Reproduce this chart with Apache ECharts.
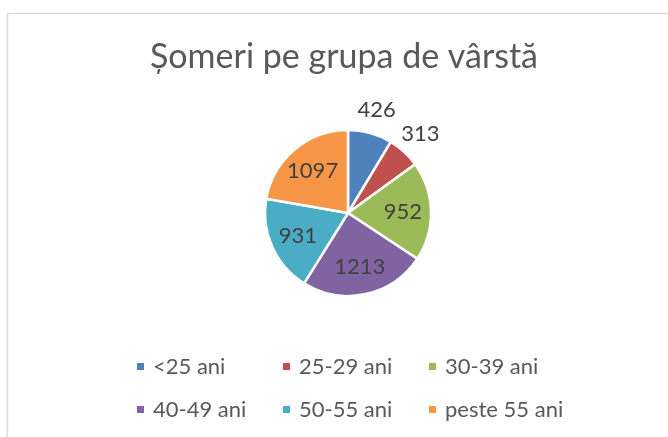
<!DOCTYPE html>
<html>
<head>
<meta charset="utf-8">
<script src="https://cdn.jsdelivr.net/npm/echarts@6/dist/echarts.min.js"></script>
<style>
html,body{margin:0;padding:0;background:#fff;}
#chart{width:668px;height:437px;}
</style>
</head>
<body>
<div id="chart"></div>
<script>
const titleText = 'Șomeri pe grupa de vârstă';
const categories = ['<25 ani', '25-29 ani', '30-39 ani', '40-49 ani', '50-55 ani', 'peste 55 ani'];
const values = [426, 313, 952, 1213, 931, 1097];
const labelOutside = [true, true, false, false, false, false];
const colors = ['#4f81bd', '#c0504d', '#9bbb59', '#8064a2', '#4bacc6', '#f79646'];

const chart = echarts.init(document.getElementById('chart'), null, {renderer: 'canvas'});

const baseData = categories.map((c, i) => ({name: c, value: values[i], itemStyle: {color: colors[i]}}));
const labelFont = {fontFamily: 'Lato', fontSize: 22, color: '#404040'};

function labelSeries(radius, outsideFlag) {
  return {
    type: 'pie',
    silent: true,
    center: [348, 213],
    radius: radius,
    startAngle: 90,
    clockwise: true,
    legendHoverLink: false,
    itemStyle: {color: 'rgba(0,0,0,0)', borderWidth: 0},
    emphasis: {disabled: true},
    labelLine: {show: false},
    data: categories.map((c, i) => ({
      name: c,
      value: values[i],
      label: {show: labelOutside[i] === outsideFlag, position: 'inside', formatter: '{c}', ...labelFont}
    })),
    z: 5
  };
}

chart.setOption({
  backgroundColor: '#fff',
  animation: false,
  graphic: [{
    type: 'rect',
    shape: {x: 7.5, y: 13.5, width: 700, height: 500},
    style: {fill: 'none', stroke: '#d9d9d9', lineWidth: 1.5},
    silent: true
  }],
  title: {
    text: titleText,
    left: 344,
    textAlign: 'center',
    top: 40,
    padding: 0,
    textStyle: {fontFamily: 'Lato', fontSize: 34, fontWeight: 'normal', color: '#595959'}
  },
  legend: {
    data: categories,
    left: 135,
    top: 349,
    padding: 0,
    width: 440,
    orient: 'horizontal',
    icon: 'rect',
    itemWidth: 9,
    itemHeight: 9,
    itemGap: 8,
    textStyle: {fontFamily: 'Lato', fontSize: 22, color: '#595959', width: 120, lineHeight: 35, padding: [0, 0, 0, 3]},
    selectedMode: false
  },
  series: [
    {
      type: 'pie',
      center: [348, 213],
      radius: [0, 83],
      startAngle: 90,
      clockwise: true,
      itemStyle: {borderColor: '#ffffff', borderWidth: 2.5},
      label: {show: false},
      labelLine: {show: false},
      emphasis: {disabled: true},
      data: baseData,
      z: 2
    },
    labelSeries([0, 104], false),
    labelSeries([88, 120], true)
  ]
});
</script>
</body>
</html>
